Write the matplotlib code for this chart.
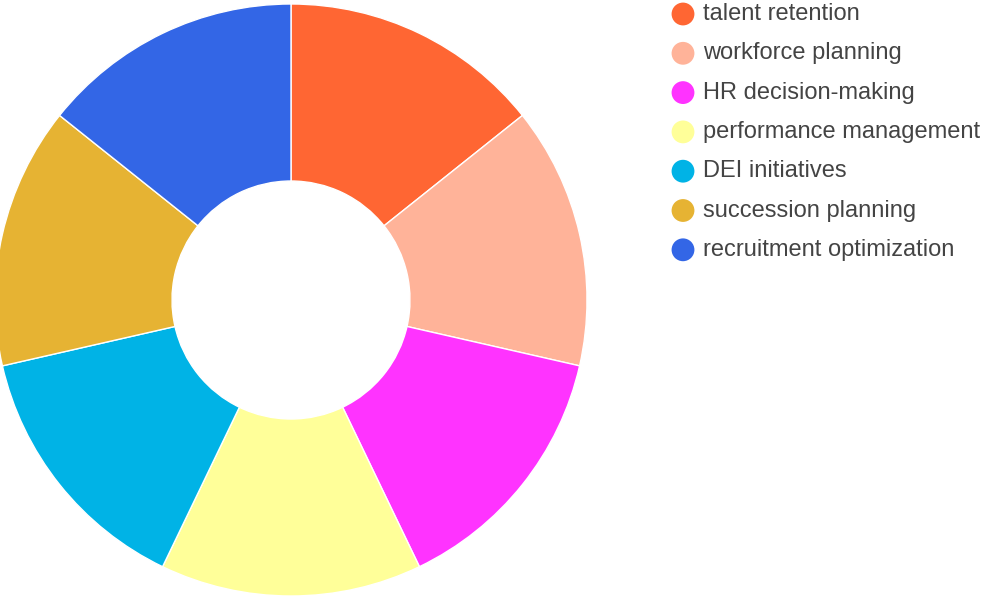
import matplotlib
matplotlib.use("Agg")
import matplotlib.pyplot as plt

labels = ["talent retention", "workforce planning", "HR decision-making",
          "performance management", "DEI initiatives", "succession planning",
          "recruitment optimization"]
values = [1, 1, 1, 1, 1, 1, 1]
colors = ["#FF6633", "#FFB399", "#FF33FF", "#FFFF99", "#00B3E6", "#E6B333", "#3366E6"]

plt.rcParams['font.family'] = ['Liberation Sans', 'DejaVu Sans']

fig = plt.figure(figsize=(10, 6), dpi=100)

# donut
ax = fig.add_axes([-0.009, 0.0, 0.6, 1.0])
ax.pie(values, colors=colors, startangle=90, counterclock=False,
       radius=1.0, wedgeprops=dict(width=0.598, edgecolor="white", linewidth=1))
ax.set_xlim(-1.0135, 1.0135)
ax.set_ylim(-1.0135, 1.0135)
ax.set_aspect("equal")
ax.axis("off")

# legend drawn in pixel space
lax = fig.add_axes([0, 0, 1, 1])
lax.set_xlim(0, 1000)
lax.set_ylim(600, 0)
lax.axis("off")
for i, (lab, col) in enumerate(zip(labels, colors)):
    y = 14 + i * 39.3
    lax.scatter(683, y, s=270, color=col, edgecolors="none")
    lax.text(703, y, lab, fontsize=17, color="#444444", va="center", ha="left")

fig.savefig("out.png", dpi=100)
